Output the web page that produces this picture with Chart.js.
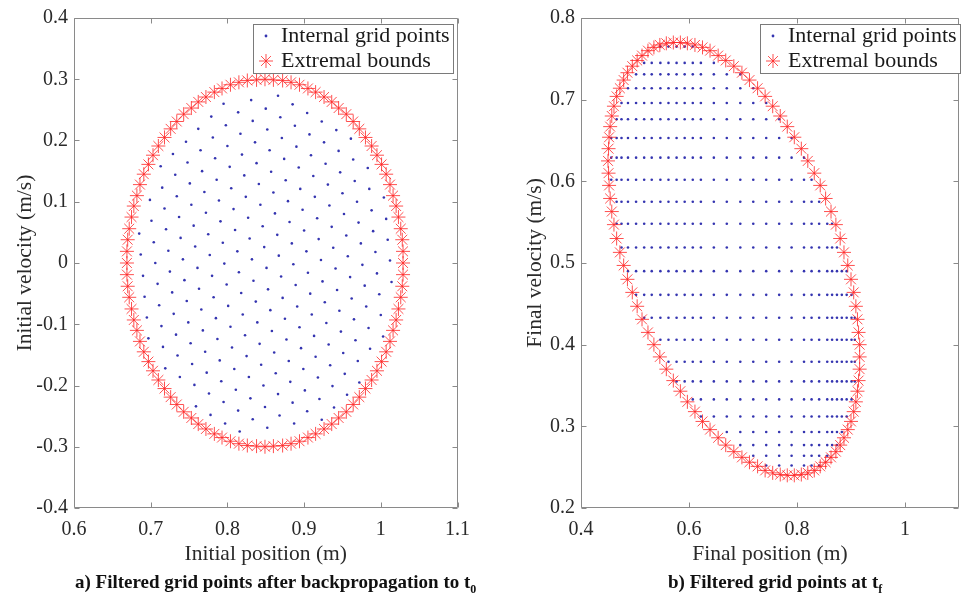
<!DOCTYPE html>
<html>
<head>
<meta charset="utf-8">
<script src="https://cdn.jsdelivr.net/npm/chart.js@4.4.1/dist/chart.umd.min.js"></script>
<style>
html, body { margin: 0; padding: 0; background: #fff; }
#wrap { position: relative; width: 967px; height: 600px; overflow: hidden; }
canvas { position: absolute; top: 0; }
#c1 { left: 0; }
#c2 { left: 480px; }
.cap { position: absolute; top: 571px; font: bold 19px "Liberation Serif", "Times New Roman", serif; color: #111; white-space: nowrap; }
.cap sub { font-size: 12px; }
</style>
</head>
<body>
<div id="wrap">
<canvas id="c1" width="480" height="600"></canvas>
<canvas id="c2" width="487" height="600"></canvas>
<div class="cap" style="left:75px">a) Filtered grid points after backpropagation to t<sub>0</sub></div>
<div class="cap" style="left:668px">b) Filtered grid points at t<sub>f</sub></div>
</div>
<script>
Chart.defaults.font.family = '"Liberation Serif", "Times New Roman", serif';
Chart.defaults.color = '#262626';

const legendLabels = ['Internal grid points', 'Extremal bounds'];

// tick values
const leftXTicks = [0.6, 0.7, 0.8, 0.9, 1, 1.1];
const leftYTicks = [-0.4, -0.3, -0.2, -0.1, 0, 0.1, 0.2, 0.3, 0.4];
const rightXTicks = [0.4, 0.6, 0.8, 1];
const rightYTicks = [0.2, 0.3, 0.4, 0.5, 0.6, 0.7, 0.8];

// a) extremal bounds after backpropagation
const leftBoundX = [1.029,1.029,1.028,1.026,1.023,1.020,1.016,1.012,1.007,1.001,0.995,0.988,0.980,0.972,0.964,0.955,0.945,0.936,0.926,0.915,0.905,0.894,0.883,0.872,0.860,
  0.849,0.838,0.826,0.815,0.804,0.793,0.783,0.772,0.762,0.753,0.743,0.734,0.726,0.718,0.710,0.703,0.697,0.691,0.686,0.682,0.678,0.675,0.672,0.670,0.669,
  0.669,0.669,0.670,0.672,0.675,0.678,0.682,0.686,0.691,0.697,0.703,0.710,0.718,0.726,0.734,0.743,0.753,0.762,0.772,0.783,0.793,0.804,0.815,0.826,0.838,
  0.849,0.860,0.872,0.883,0.894,0.905,0.915,0.926,0.936,0.945,0.955,0.964,0.972,0.980,0.988,0.995,1.001,1.007,1.012,1.016,1.020,1.023,1.026,1.028,1.029];
const leftBoundY = [0,0.019,0.038,0.056,0.075,0.093,0.110,0.128,0.145,0.161,0.176,0.191,0.205,0.219,0.231,0.243,0.253,0.263,0.271,0.279,0.285,0.291,0.295,0.298,0.299,
  0.300,0.299,0.298,0.295,0.291,0.285,0.279,0.271,0.263,0.253,0.243,0.231,0.219,0.205,0.191,0.176,0.161,0.145,0.128,0.110,0.093,0.075,0.056,0.038,0.019,
  0,-0.019,-0.038,-0.056,-0.075,-0.093,-0.110,-0.128,-0.145,-0.161,-0.176,-0.191,-0.205,-0.219,-0.231,-0.243,-0.253,-0.263,-0.271,-0.279,-0.285,-0.291,-0.295,-0.298,-0.299,
  -0.300,-0.299,-0.298,-0.295,-0.291,-0.285,-0.279,-0.271,-0.263,-0.253,-0.243,-0.231,-0.219,-0.205,-0.191,-0.176,-0.161,-0.145,-0.128,-0.110,-0.093,-0.075,-0.056,-0.038,-0.019];

// a) internal grid points (x, y)
const leftGrid = [
  [0.795,0.260],[0.831,0.266],[0.866,0.273],
  [0.779,0.239],[0.814,0.246],[0.850,0.252],[0.885,0.259],
  [0.762,0.219],[0.798,0.225],[0.833,0.232],[0.869,0.238],[0.904,0.245],
  [0.746,0.198],[0.781,0.205],[0.817,0.211],[0.852,0.218],[0.888,0.224],[0.923,0.231],
  [0.729,0.178],[0.765,0.184],[0.800,0.191],[0.836,0.197],[0.871,0.204],[0.907,0.210],[0.942,0.217],
  [0.713,0.158],[0.748,0.164],[0.784,0.171],[0.819,0.177],[0.855,0.184],[0.890,0.190],[0.926,0.197],[0.961,0.203],
  [0.732,0.144],[0.767,0.150],[0.803,0.157],[0.838,0.163],[0.874,0.170],[0.909,0.176],[0.945,0.183],
  [0.715,0.123],[0.751,0.130],[0.786,0.136],[0.822,0.143],[0.857,0.149],[0.893,0.156],[0.928,0.162],[0.964,0.169],
  [0.699,0.103],[0.734,0.109],[0.770,0.116],[0.805,0.122],[0.841,0.129],[0.876,0.135],[0.912,0.142],[0.947,0.148],[0.983,0.155],
  [0.718,0.089],[0.753,0.095],[0.789,0.102],[0.824,0.108],[0.860,0.115],[0.895,0.121],[0.931,0.128],[0.966,0.134],
  [0.701,0.069],[0.737,0.075],[0.772,0.082],[0.808,0.088],[0.843,0.095],[0.879,0.101],[0.914,0.108],[0.950,0.114],[0.985,0.121],
  [0.685,0.048],[0.720,0.055],[0.756,0.061],[0.791,0.068],[0.827,0.074],[0.862,0.081],[0.898,0.087],[0.933,0.094],[0.969,0.100],[1.004,0.107],
  [0.704,0.034],[0.739,0.041],[0.775,0.047],[0.810,0.054],[0.846,0.060],[0.881,0.067],[0.917,0.073],[0.952,0.080],[0.988,0.086],
  [0.687,0.014],[0.723,0.020],[0.758,0.027],[0.794,0.033],[0.829,0.040],[0.865,0.046],[0.900,0.053],[0.936,0.059],[0.971,0.066],[1.007,0.072],
  [0.706,0.000],[0.742,0.006],[0.777,0.013],[0.813,0.019],[0.848,0.026],[0.884,0.032],[0.919,0.039],[0.955,0.045],[0.990,0.052],
  [0.690,-0.021],[0.725,-0.014],[0.761,-0.008],[0.796,-0.001],[0.832,0.006],[0.867,0.012],[0.903,0.019],[0.938,0.025],[0.974,0.032],[1.009,0.038],
  [0.709,-0.034],[0.744,-0.028],[0.780,-0.021],[0.815,-0.015],[0.851,-0.008],[0.886,-0.002],[0.922,0.005],[0.957,0.011],[0.993,0.018],
  [0.692,-0.055],[0.728,-0.048],[0.763,-0.042],[0.799,-0.035],[0.834,-0.029],[0.870,-0.022],[0.905,-0.016],[0.941,-0.009],[0.976,-0.003],[1.012,0.004],
  [0.711,-0.069],[0.747,-0.062],[0.782,-0.056],[0.818,-0.049],[0.853,-0.043],[0.889,-0.036],[0.924,-0.030],[0.960,-0.023],[0.995,-0.017],
  [0.695,-0.089],[0.730,-0.083],[0.766,-0.076],[0.801,-0.070],[0.837,-0.063],[0.872,-0.057],[0.908,-0.050],[0.943,-0.044],[0.979,-0.037],[1.014,-0.031],
  [0.714,-0.103],[0.749,-0.097],[0.785,-0.090],[0.820,-0.084],[0.856,-0.077],[0.891,-0.071],[0.927,-0.064],[0.962,-0.058],[0.998,-0.051],
  [0.697,-0.123],[0.733,-0.117],[0.768,-0.110],[0.804,-0.104],[0.839,-0.097],[0.875,-0.091],[0.910,-0.084],[0.946,-0.078],[0.981,-0.071],
  [0.716,-0.137],[0.752,-0.131],[0.787,-0.124],[0.823,-0.118],[0.858,-0.111],[0.894,-0.105],[0.929,-0.098],[0.965,-0.092],[1.000,-0.085],
  [0.735,-0.151],[0.771,-0.145],[0.806,-0.138],[0.842,-0.132],[0.877,-0.125],[0.913,-0.119],[0.948,-0.112],[0.984,-0.106],
  [0.719,-0.172],[0.754,-0.165],[0.790,-0.159],[0.825,-0.152],[0.861,-0.146],[0.896,-0.139],[0.932,-0.133],[0.967,-0.126],[1.003,-0.120],
  [0.738,-0.186],[0.773,-0.179],[0.809,-0.173],[0.844,-0.166],[0.880,-0.160],[0.915,-0.153],[0.951,-0.147],[0.986,-0.140],
  [0.757,-0.199],[0.792,-0.193],[0.828,-0.186],[0.863,-0.180],[0.899,-0.173],[0.934,-0.167],[0.970,-0.160],
  [0.776,-0.213],[0.811,-0.207],[0.847,-0.200],[0.882,-0.194],[0.918,-0.187],[0.953,-0.181],
  [0.759,-0.234],[0.795,-0.227],[0.830,-0.221],[0.866,-0.214],[0.901,-0.208],[0.937,-0.201],[0.972,-0.195],
  [0.778,-0.248],[0.814,-0.241],[0.849,-0.235],[0.885,-0.228],[0.920,-0.222],[0.956,-0.215],
  [0.797,-0.262],[0.833,-0.255],[0.868,-0.249],[0.904,-0.242],[0.939,-0.236],
  [0.816,-0.275],[0.852,-0.269],[0.887,-0.262],[0.923,-0.256]
];

// b) extremal bounds at tf
const rightBoundX = [0.916,0.916,0.914,0.912,0.909,0.905,0.900,0.894,0.887,0.880,0.872,0.863,0.853,0.843,0.832,0.820,0.808,0.795,0.782,0.769,0.755,0.741,0.727,0.712,0.698,
  0.683,0.668,0.654,0.639,0.625,0.611,0.597,0.584,0.571,0.558,0.546,0.535,0.524,0.513,0.504,0.495,0.486,0.479,0.472,0.466,0.461,0.457,0.454,0.452,0.451,
  0.450,0.451,0.452,0.454,0.457,0.461,0.466,0.472,0.479,0.486,0.495,0.504,0.513,0.524,0.535,0.546,0.558,0.571,0.584,0.597,0.611,0.625,0.639,0.654,0.668,
  0.683,0.698,0.712,0.727,0.741,0.755,0.769,0.782,0.795,0.808,0.820,0.832,0.843,0.853,0.863,0.872,0.880,0.887,0.894,0.900,0.905,0.909,0.912,0.914,0.916];
const rightBoundY = [0.385,0.400,0.415,0.431,0.447,0.464,0.480,0.497,0.513,0.530,0.547,0.563,0.579,0.595,0.610,0.625,0.640,0.654,0.667,0.680,0.692,0.704,0.714,0.724,0.733,
  0.741,0.748,0.754,0.760,0.764,0.767,0.769,0.770,0.770,0.769,0.767,0.764,0.760,0.754,0.748,0.741,0.733,0.724,0.714,0.704,0.692,0.680,0.667,0.654,0.640,
  0.625,0.610,0.595,0.579,0.563,0.547,0.530,0.513,0.497,0.480,0.464,0.447,0.431,0.415,0.400,0.385,0.370,0.356,0.343,0.330,0.318,0.306,0.296,0.286,0.277,
  0.269,0.262,0.256,0.251,0.246,0.243,0.241,0.240,0.240,0.241,0.243,0.246,0.251,0.256,0.262,0.269,0.277,0.286,0.296,0.306,0.318,0.330,0.343,0.356,0.370];

// b) internal grid: column positions, row velocities, first/last column of each row
const rightColX = [0.456,0.466,0.475,0.487,0.502,0.517,0.531,0.547,0.562,0.577,0.592,0.607,0.622,0.646,0.670,
  0.695,0.719,0.743,0.767,0.790,0.813,0.827,0.841,0.856,0.865,0.874,0.883,0.892,0.901,0.907];
const rightRowY = [0.765,0.745,0.731,0.714,0.696,0.676,0.653,0.629,0.602,0.575,0.548,0.519,0.490,0.461,0.433,0.406,
  0.379,0.355,0.333,0.312,0.293,0.277,0.264,0.252];
const rightRowSpan = [[7,11],[5,13],[4,15],[3,16],[2,17],[1,18],[0,19],[0,20],[0,21],[1,22],[1,24],[2,25],[3,27],[4,28],
  [5,29],[7,29],[8,29],[9,29],[11,28],[12,27],[14,26],[15,25],[16,23],[17,22]];

const dotColor = '#3434b0';
const starColor = 'rgba(255,35,35,0.8)';

const toPts = (xs, ys) => xs.map((x, i) => ({x: x, y: ys[i]}));
const leftGridPts = leftGrid.map(p => ({x: p[0], y: p[1]}));
const rightGridPts = [];
rightRowY.forEach((y, r) => {
  const [c0, c1] = rightRowSpan[r];
  for (let c = c0; c <= c1; c++) rightGridPts.push({x: rightColX[c], y: y});
});

function star(ctx, x, y, r) {
  ctx.beginPath();
  for (let k = 0; k < 4; k++) {
    const a = k * Math.PI / 4;
    ctx.moveTo(x - r * Math.cos(a), y - r * Math.sin(a));
    ctx.lineTo(x + r * Math.cos(a), y + r * Math.sin(a));
  }
  ctx.stroke();
}

// frame with inward ticks on all four sides + legend box
const boxPlugin = {
  id: 'box',
  afterDraw(chart, args, o) {
    const ctx = chart.ctx, a = chart.chartArea;
    const sx = chart.scales.x, sy = chart.scales.y;
    ctx.save();
    ctx.strokeStyle = '#8a8a8a';
    ctx.lineWidth = 1;
    const L = Math.round(a.left) + 0.5, R = Math.round(a.right) - 0.5;
    const T = Math.round(a.top) + 0.5, B = Math.round(a.bottom) - 0.5;
    ctx.beginPath();
    ctx.rect(L, T, R - L, B - T);
    sx.ticks.forEach(t => {
      const p = Math.round(sx.getPixelForValue(t.value)) + 0.5;
      ctx.moveTo(p, B); ctx.lineTo(p, B - 5);
      ctx.moveTo(p, T); ctx.lineTo(p, T + 5);
    });
    sy.ticks.forEach(t => {
      const p = Math.round(sy.getPixelForValue(t.value)) + 0.5;
      ctx.moveTo(L, p); ctx.lineTo(L + 5, p);
      ctx.moveTo(R, p); ctx.lineTo(R - 5, p);
    });
    ctx.stroke();

    const [lx, ly, lw, lh] = o.rect;
    ctx.fillStyle = '#fff';
    ctx.fillRect(lx, ly, lw, lh);
    ctx.strokeStyle = '#7a7a7a';
    ctx.strokeRect(lx + 0.5, ly + 0.5, lw, lh);
    const mx = lx + 13, tx = lx + 28;
    ctx.fillStyle = dotColor;
    ctx.beginPath(); ctx.arc(mx, ly + 12, 1.4, 0, Math.PI * 2); ctx.fill();
    ctx.strokeStyle = starColor;
    star(ctx, mx, ly + 37, 7);
    ctx.fillStyle = '#1a1a1a';
    ctx.font = '22px "Liberation Serif", "Times New Roman", serif';
    ctx.textBaseline = 'middle';
    ctx.fillText(legendLabels[0], tx, ly + 12);
    ctx.fillText(legendLabels[1], tx, ly + 37);
    ctx.restore();
  }
};

function makeChart(id, cfg) {
  const fmt = v => String(Math.round(v * 100) / 100);
  return new Chart(document.getElementById(id), {
    type: 'scatter',
    data: {
      datasets: [
        { label: legendLabels[0], data: cfg.grid, order: 1, pointStyle: 'circle', pointRadius: 1.3,
          backgroundColor: dotColor, borderWidth: 0 },
        { label: legendLabels[1], data: cfg.bound, order: 0, pointStyle: 'star', pointRadius: 7,
          borderColor: starColor, backgroundColor: starColor, borderWidth: 1 }
      ]
    },
    options: {
      responsive: false,
      animation: false,
      events: [],
      devicePixelRatio: 1,
      layout: { padding: cfg.pad },
      plugins: { legend: { display: false }, tooltip: { enabled: false }, box: { rect: cfg.legendRect } },
      scales: {
        x: {
          type: 'linear', min: cfg.xr[0], max: cfg.xr[1],
          afterBuildTicks: s => { s.ticks = cfg.xt.map(v => ({value: v})); },
          afterFit: s => { s.height = 59; },
          grid: { display: false, drawTicks: false }, border: { display: false },
          ticks: { callback: fmt, font: { size: 20 }, padding: 10, maxRotation: 0, color: '#2a2a2a' },
          title: { display: true, text: cfg.xTitle, font: { size: 21.5 }, padding: { top: 0, bottom: 0 }, color: '#2a2a2a' }
        },
        y: {
          type: 'linear', min: cfg.yr[0], max: cfg.yr[1],
          afterBuildTicks: s => { s.ticks = cfg.yt.map(v => ({value: v})); },
          afterFit: s => { s.width = cfg.yw; },
          grid: { display: false, drawTicks: false }, border: { display: false },
          ticks: { callback: fmt, font: { size: 20 }, padding: 6, color: '#2a2a2a' },
          title: { display: true, text: cfg.yTitle, font: { size: 21.5 }, padding: { top: cfg.yTitlePad, bottom: 0 }, color: '#2a2a2a' }
        }
      }
    },
    plugins: [boxPlugin]
  });
}

makeChart('c1', {
  grid: leftGridPts, bound: toPts(leftBoundX, leftBoundY),
  xr: [0.6, 1.1], yr: [-0.4, 0.4], xt: leftXTicks, yt: leftYTicks,
  xTitle: 'Initial position (m)', yTitle: 'Initial velocity (m/s)',
  pad: { left: 0, top: 17, right: 21, bottom: 33 }, yw: 74, yTitlePad: 12,
  legendRect: [253, 24, 200, 49]
});

makeChart('c2', {
  grid: rightGridPts, bound: toPts(rightBoundX, rightBoundY),
  xr: [0.4, 1.1], yr: [0.2, 0.8], xt: rightXTicks, yt: rightYTicks,
  xTitle: 'Final position (m)', yTitle: 'Final velocity (m/s)',
  pad: { left: 0, top: 17, right: 0, bottom: 33 }, yw: 101, yTitlePad: 42,
  legendRect: [280, 24, 200, 49]
});
</script>
</body>
</html>
